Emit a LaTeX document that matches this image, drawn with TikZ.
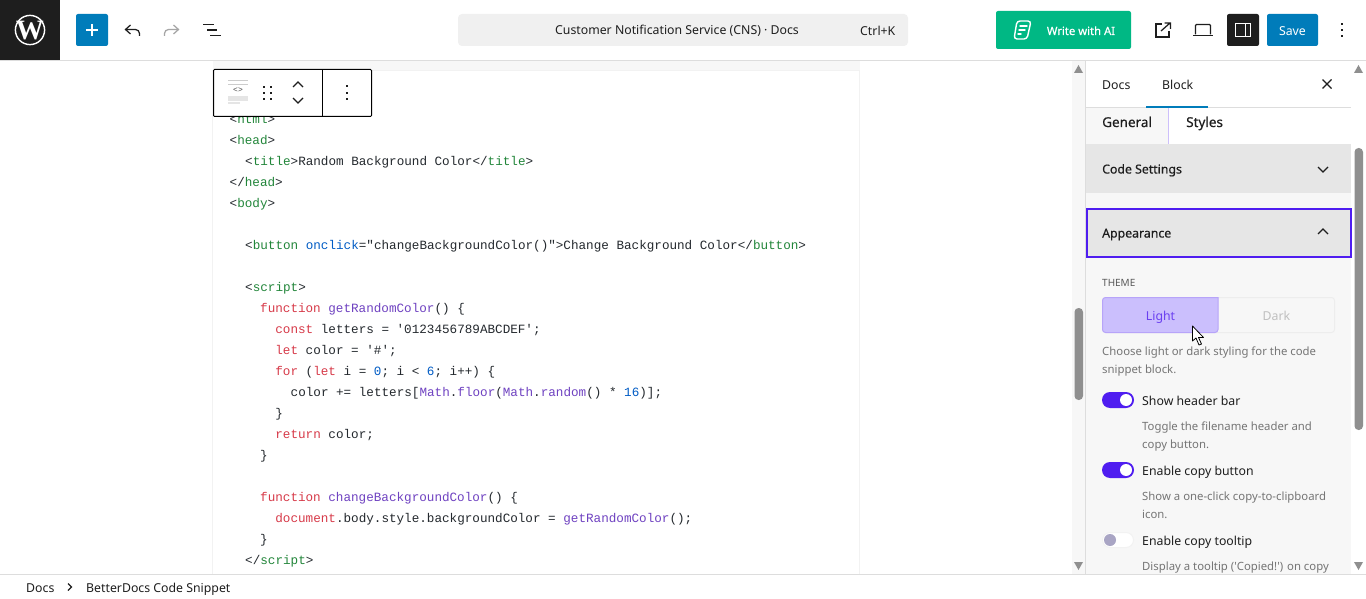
\documentclass[tikz,border=0pt]{standalone}
\usepackage{fontspec}
\usetikzlibrary{calc}
\tikzset{>=latex}
\newfontfamily\uifont{Noto Sans}
\newfontfamily\uifontb[FakeBold=0.5]{Noto Sans}
\newfontfamily\codefont{Liberation Mono}
\newfontfamily\logofont{Liberation Serif}
\definecolor{wpblue}{HTML}{007CBA}
\definecolor{wpblack}{HTML}{1E1E1E}
\definecolor{wpline}{HTML}{DDDDDD}
\definecolor{aigreen}{HTML}{00B884}
\definecolor{searchgray}{HTML}{F0F0F0}
\definecolor{panelgray}{HTML}{F7F7F7}
\definecolor{bandgray}{HTML}{E6E6E6}
\definecolor{violet}{HTML}{4F1DF0}
\definecolor{lightviolet}{HTML}{CBBFFD}
\definecolor{violetedge}{HTML}{B7A4F9}
\definecolor{violettext}{HTML}{6A3FF0}
\definecolor{knobgray}{HTML}{A9A5C4}
\definecolor{helpgray}{HTML}{757575}
\definecolor{codeink}{HTML}{24292E}
\definecolor{codegreen}{HTML}{22863A}
\definecolor{codeblue}{HTML}{005CC5}
\definecolor{codered}{HTML}{D73A49}
\definecolor{codepurple}{HTML}{6F42C1}
\definecolor{thumbgray}{HTML}{8F8F8F}
\newcommand{\opentag}[1]{<\textcolor{codegreen}{#1}>}
\newcommand{\closetag}[1]{</\textcolor{codegreen}{#1}>}
\newcommand{\kw}[1]{\textcolor{codered}{#1}}
\newcommand{\fn}[1]{\textcolor{codepurple}{#1}}
\newcommand{\nm}[1]{\textcolor{codeblue}{#1}}
\tikzset{
  codetext/.style={inner sep=0,anchor=base west,text=codeink,font=\codefont\fontsize{12.63}{15}\selectfont},
  uitext/.style={inner sep=0,anchor=base west,text=wpblack,font=\uifont\fontsize{12.3}{15}\selectfont},
  semitext/.style={uitext,font=\uifontb\fontsize{12.3}{15}\selectfont},
  tabtext/.style={uitext,font=\uifontb\fontsize{13.5}{15}\selectfont},
  helptext/.style={uitext,text=helpgray,font=\uifont\fontsize{11.35}{14}\selectfont},
  centertext/.style={uitext,anchor=base},
  iconline/.style={draw=wpblack,line width=1.25pt},
  thinline/.style={draw=wpline,line width=1pt},
  greenline/.style={draw=white,line width=1.4pt,line cap=round}
}
\begin{document}
\begin{tikzpicture}[x=1pt,y=-1pt]
  \useasboundingbox (0,0) rectangle (1366,599);
  \fill[white] (0,0) rectangle (1366,599);

  % page of the editor
  \fill[panelgray] (213,61) rectangle (860,71);
  \fill[panelgray] (1072,61) rectangle (1085,574);
  \draw[draw=black!5,line width=1pt] (212.5,574) -- (212.5,71) -- (859.5,71) -- (859.5,574);

  % code lines: number / x / baseline / text
  \foreach \i/\x/\y/\txt in {
    1/229.5/123.5/{\opentag{html}},
    2/229.5/144.5/{\opentag{head}},
    3/245/165.5/{\opentag{title}Random Background Color\closetag{title}},
    4/229.5/186.5/{\closetag{head}},
    5/229.5/207.5/{\opentag{body}},
    6/245/249.5/{<\textcolor{codegreen}{button} \nm{onclick}="changeBackgroundColor()">Change Background Color\closetag{button}},
    7/245/291.5/{\opentag{script}},
    8/260/312.5/{\kw{function} \fn{getRandomColor}() \{},
    9/275.2/333.5/{\kw{const} letters = '0123456789ABCDEF';},
    10/275.2/354.5/{\kw{let} color = '\#';},
    11/275.2/375.5/{\kw{for} (\kw{let} i = \nm{0}; i < \nm{6}; i++) \{},
    12/290.5/396.5/{color += letters[\fn{Math}.\fn{floor}(\fn{Math}.\fn{random}() * \nm{16})];},
    13/275.2/417.5/{\}},
    14/275.2/438.5/{\kw{return} color;},
    15/260/459.5/{\}},
    16/260/501.5/{\kw{function} \fn{changeBackgroundColor}() \{},
    17/275.2/522.5/{\kw{document}.body.style.backgroundColor = \fn{getRandomColor}();},
    18/260/543.5/{\}},
    19/245/564.5/{\closetag{script}}}
    \node[codetext] (code\i) at (\x,\y) {\txt};

  % block toolbar
  \draw[fill=white,draw=black,line width=1pt,rounded corners=1pt] (213.5,69.5) rectangle (371.5,116.5);
  \draw[black,line width=1pt] (322.5,69.5) -- (322.5,116.5);
  \foreach \y in {81,85}
    \draw[black!20,line width=1pt] (228,\y) -- (248,\y);
  \node[inner sep=0,text=black!70,font=\codefont\fontsize{8}{8}\selectfont] (blockicon) at (238,90.5) {<>};
  \fill[black!10] (228,96) rectangle (248,101);
  \fill[black!10] (228,102) rectangle (240,104);
  \foreach \x in {264,271}
    \foreach \y in {87,93,99}
      \fill[wpblack] (\x-1,\y-1) rectangle (\x+1,\y+1);
  \draw[iconline] (293,87) -- (298,82) -- (303,87);
  \draw[iconline] (293,98) -- (298,103) -- (303,98);
  \foreach \y in {86,93,99.5}
    \fill[wpblack] (346,\y-1) rectangle (348,\y+1);

  % top bar
  \fill[white] (0,0) rectangle (1366,60);
  \draw[thinline] (0,60.5) -- (1366,60.5);
  \fill[wpblack] (0,0) rectangle (60,60);
  \draw[white,line width=1.4pt] (30,30) circle (14.6);
  \node[inner sep=0,text=white,font=\logofont\bfseries\fontsize{28}{28}\selectfont] (wplogo) at (30,31) {W};
  \fill[wpblue,rounded corners=2pt] (76,14) rectangle (108,46);
  \draw[white,line width=1.5pt] (86,30) -- (98,30) (92,24) -- (92,36);
  \draw[iconline,rounded corners=4pt] (139.5,36) -- (139.5,29.5) -- (126,29.5);
  \draw[iconline] (130.5,25) -- (125.5,29.5) -- (130.5,34);
  \draw[iconline,draw=black!35,rounded corners=4pt] (164.5,36) -- (164.5,29.5) -- (178,29.5);
  \draw[iconline,draw=black!35] (173.5,25) -- (178.5,29.5) -- (173.5,34);
  \draw[iconline] (203,24.5) -- (214,24.5) (207,30) -- (217,30) (210,35.5) -- (221,35.5);

  % title field
  \fill[searchgray,rounded corners=4pt] (458,14) rectangle (908,46);
  \node[centertext] (doctitle) at (677,35) {Customer Notification Service (CNS) · Docs};
  \node[uitext] (shortcut) at (860,35.5) {Ctrl+K};

  % write with ai
  \fill[aigreen,rounded corners=2pt] (996,11) rectangle (1131,49);
  \draw[greenline,rounded corners=3pt] (1017,21) -- (1031,21) -- (1027,39) -- (1014,39) -- cycle;
  \draw[greenline] (1020,26) -- (1027,26) (1019,30) -- (1025,30) (1018,34) -- (1021,34);
  \node[semitext,anchor=base,text=white,font=\uifontb\fontsize{11.3}{14}\selectfont] (writeai) at (1081,35) {Write with AI};

  % right side icons
  \draw[iconline] (1162,24) -- (1156,24) -- (1156,37) -- (1169,37) -- (1169,31);
  \draw[iconline] (1161,31) -- (1170,23) (1164.5,23) -- (1170.5,23) -- (1170.5,29);
  \draw[iconline,line width=1.1pt,rounded corners=1pt] (1195.5,34.5) -- (1195.5,24.5) -- (1210.5,24.5) -- (1210.5,34.5);
  \draw[iconline,line width=1.1pt] (1193,35.5) -- (1213,35.5);
  \fill[wpblack,rounded corners=2pt] (1227,14) rectangle (1259,46);
  \draw[white,line width=1pt] (1235.5,23.5) rectangle (1250.5,36.5);
  \draw[white,line width=1pt] (1245.5,23.5) -- (1245.5,36.5);
  \fill[wpblue,rounded corners=2pt] (1267,14) rectangle (1318,46);
  \node[centertext,text=white] (savebtn) at (1292.5,36) {Save};
  \foreach \y in {24,30,36}
    \fill[wpblack] (1341,\y-1) rectangle (1343,\y+1);

  % scrollbars
  \fill[thumbgray,rounded corners=4pt] (1354.5,148) rectangle (1363,430);
  \fill[thumbgray,rounded corners=4pt] (1074.5,308) rectangle (1083,400);
  \foreach \x in {1078.5,1358.5} {
    \fill[thumbgray] (\x-4.5,73) -- (\x+4.5,73) -- (\x,65) -- cycle;
    \fill[thumbgray] (\x-4.5,562) -- (\x+4.5,562) -- (\x,570) -- cycle;
  }

  % sidebar
  \fill[panelgray] (1086,193) rectangle (1351,574);
  \draw[thinline] (1085.5,61) -- (1085.5,574);
  \draw[thinline] (1086,107.5) -- (1351,107.5);
  \node[uitext] (docstab) at (1102,89.5) {Docs};
  \node[uitext] (blocktab) at (1162,89.5) {Block};
  \draw[wpblue,line width=1.5pt] (1146,107.2) -- (1208,107.2);
  \draw[iconline] (1322.5,79.5) -- (1331.5,88.5) (1331.5,79.5) -- (1322.5,88.5);
  \fill[panelgray] (1086,108) rectangle (1168,144);
  \draw[violetedge!70,line width=1pt] (1168.5,108) -- (1168.5,144);
  \node[tabtext] (generaltab) at (1102,127) {General};
  \node[tabtext] (stylestab) at (1186,127) {Styles};

  \fill[bandgray] (1086,144) rectangle (1351,193);
  \fill[white] (1169,143) rectangle (1240,144);
  \node[semitext] (codesettings) at (1102,173.5) {Code Settings};
  \draw[iconline] (1318,167) -- (1323,172) -- (1328,167);

  \draw[fill=bandgray,draw=violet,line width=2pt] (1087,209) rectangle (1350.5,256.5);
  \node[semitext] (appearance) at (1102,237.5) {Appearance};
  \draw[iconline] (1318,234) -- (1323,229) -- (1328,234);

  \node[uitext,text=black!65,font=\uifont\fontsize{10}{12}\selectfont] (themelabel) at (1102,286) {THEME};
  \draw[fill=panelgray,draw=black!7,line width=1pt,rounded corners=3pt] (1102.5,297.5) rectangle (1334.5,332.5);
  \draw[fill=lightviolet,draw=violetedge,line width=1pt,rounded corners=3pt] (1218,332.5) [sharp corners] -- (1218,297.5) [rounded corners=3pt] -- (1102.5,297.5) -- (1102.5,332.5) -- cycle;
  \node[centertext,text=violettext] (lightbtn) at (1160.5,320) {Light};
  \node[centertext,text=black!25] (darkbtn) at (1276.5,320) {Dark};
  \node[helptext] (themehelpa) at (1102,355) {Choose light or dark styling for the code};
  \node[helptext] (themehelpb) at (1102,373) {snippet block.};

  % switches: name / y / label
  \foreach \n/\y/\txt in {header/400/Show header bar,copy/470/Enable copy button} {
    \fill[violet,rounded corners=8pt] (1102,\y-8) rectangle (1134,\y+8);
    \fill[white] (1126,\y) circle (6);
    \node[uitext] (\n label) at (1142,\y+5) {\txt};
  }
  \draw[fill=white,draw=black!5,line width=1pt,rounded corners=7.5pt] (1102.5,532.5) rectangle (1133.5,547.5);
  \fill[knobgray] (1110,540) circle (6);
  \node[uitext] (tooltiplabel) at (1142,545) {Enable copy tooltip};

  % help texts under the switches
  \foreach \n/\y/\txt in {
    a/430/Toggle the filename header and,
    b/448/copy button.,
    c/500/Show a one-click copy-to-clipboard,
    d/518/icon.,
    e/570/{Display a tooltip ('Copied!') on copy}}
    \node[helptext] (help\n) at (1142,\y) {\txt};

  % bottom bar
  \fill[white] (0,574) rectangle (1366,599);
  \draw[thinline] (0,574.5) -- (1366,574.5);
  \node[uitext] (crumbdocs) at (26,592) {Docs};
  \draw[iconline,line width=1.2pt] (68,583.5) -- (71.5,587) -- (68,590.5);
  \node[uitext] (crumbblock) at (86,592) {BetterDocs Code Snippet};

  % mouse pointer
  \draw[fill=white,draw=black,line width=0.8pt,line join=round] (1192.5,326) -- (1192.5,341) -- (1196,338) -- (1199,345) -- (1201.5,344) -- (1198.5,337.5) -- (1203.5,337.5) -- cycle;
\end{tikzpicture}
\end{document}
